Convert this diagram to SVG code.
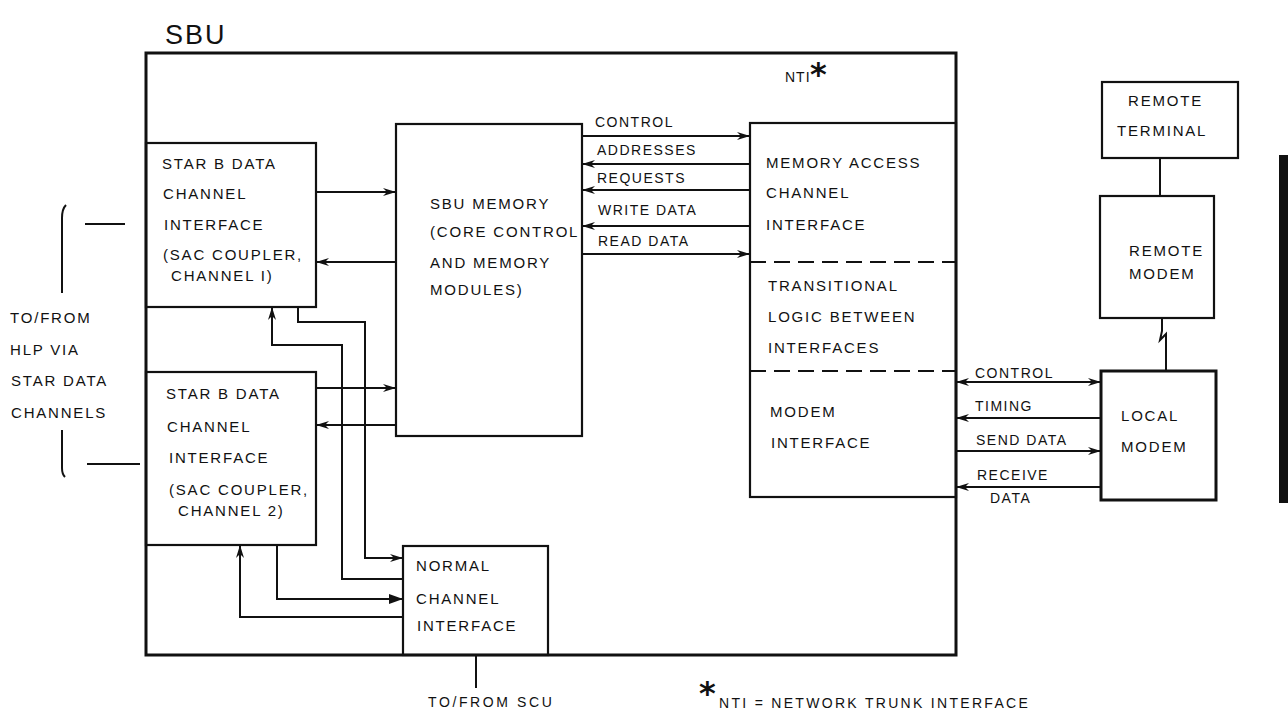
<svg xmlns="http://www.w3.org/2000/svg" width="1288" height="715" viewBox="0 0 1288 715">
<style>
text{font-family:"Liberation Sans",Arial,sans-serif;fill:#111;font-size:15px;letter-spacing:1.8px}
.lbl{font-size:14px;letter-spacing:1.5px}
.ast{font-family:"DejaVu Sans",sans-serif;font-weight:bold;font-size:32px;letter-spacing:0}
.box{fill:none;stroke:#111;stroke-width:2.2}
.thick{fill:none;stroke:#111;stroke-width:3}
.ln{fill:none;stroke:#111;stroke-width:2}
.dash{fill:none;stroke:#111;stroke-width:2;stroke-dasharray:16 8}
</style>
<defs>
<marker id="arr" markerUnits="userSpaceOnUse" markerWidth="14" markerHeight="10" refX="13" refY="4" orient="auto-start-reverse">
<path d="M0,0 L13,4 L0,8 L4,4 z" fill="#111"/>
</marker>
<marker id="arrf" markerUnits="userSpaceOnUse" markerWidth="16" markerHeight="12" refX="14" refY="5" orient="auto">
<path d="M0,0 L14,5 L0,10 z" fill="#111"/>
</marker>
</defs>
<rect width="1288" height="715" fill="#fff"/>

<text x="165" y="44" style="font-size:27px;letter-spacing:2px">SBU</text>

<g id="sbu">
<rect x="146" y="53" width="810" height="602" class="thick"/>
</g>

<g id="starb1">
<rect x="146" y="143" width="170" height="164" class="box"/>
<text x="162" y="169">STAR B DATA</text>
<text x="163" y="199">CHANNEL</text>
<text x="164" y="230">INTERFACE</text>
<text x="163" y="260">(SAC COUPLER,</text>
<text x="171" y="281">CHANNEL I)</text>
</g>

<g id="starb2">
<rect x="146" y="372" width="170" height="173" class="box"/>
<text x="166" y="399">STAR B DATA</text>
<text x="167" y="432">CHANNEL</text>
<text x="169" y="463">INTERFACE</text>
<text x="169" y="495">(SAC COUPLER,</text>
<text x="178" y="516">CHANNEL 2)</text>
</g>

<g id="memory">
<rect x="396" y="124" width="186" height="312" class="box"/>
<text x="430" y="209">SBU MEMORY</text>
<text x="430" y="237">(CORE CONTROL</text>
<text x="430" y="268">AND MEMORY</text>
<text x="430" y="295">MODULES)</text>
</g>

<g id="nti">
<text x="785" y="82" style="font-size:14px;letter-spacing:1px">NTI</text>
<text x="810" y="85" class="ast">*</text>
<rect x="750" y="123" width="206" height="374" class="box"/>
<line x1="750" y1="262" x2="956" y2="262" class="dash"/>
<line x1="750" y1="371" x2="956" y2="371" class="dash"/>
<text x="766" y="168">MEMORY ACCESS</text>
<text x="766" y="198">CHANNEL</text>
<text x="766" y="230">INTERFACE</text>
<text x="768" y="291">TRANSITIONAL</text>
<text x="768" y="322">LOGIC BETWEEN</text>
<text x="768" y="353">INTERFACES</text>
<text x="770" y="417">MODEM</text>
<text x="771" y="448">INTERFACE</text>
</g>

<g id="normal">
<rect x="403" y="546" width="145" height="109" class="box"/>
<text x="416" y="571">NORMAL</text>
<text x="416" y="604">CHANNEL</text>
<text x="417" y="631">INTERFACE</text>
</g>

<g id="remoteterminal">
<rect x="1102" y="82" width="136" height="76" class="box"/>
<text x="1128" y="106">REMOTE</text>
<text x="1117" y="136">TERMINAL</text>
</g>

<g id="remotemodem">
<rect x="1100" y="196" width="114" height="122" class="box"/>
<text x="1129" y="256">REMOTE</text>
<text x="1129" y="279">MODEM</text>
</g>

<g id="localmodem">
<rect x="1101" y="371" width="115" height="129" class="thick"/>
<text x="1121" y="421">LOCAL</text>
<text x="1121" y="452">MODEM</text>
</g>

<g id="connectors">
<line x1="316" y1="192" x2="396" y2="192" class="ln" marker-end="url(#arr)"/>
<line x1="396" y1="262" x2="316" y2="262" class="ln" marker-end="url(#arr)"/>
<line x1="316" y1="388" x2="396" y2="388" class="ln" marker-end="url(#arr)"/>
<line x1="396" y1="425" x2="316" y2="425" class="ln" marker-end="url(#arr)"/>

<line x1="582" y1="136" x2="750" y2="136" class="ln" marker-end="url(#arr)"/>
<line x1="750" y1="164" x2="582" y2="164" class="ln" marker-end="url(#arr)"/>
<line x1="750" y1="190" x2="582" y2="190" class="ln" marker-end="url(#arr)"/>
<line x1="750" y1="226" x2="582" y2="226" class="ln" marker-end="url(#arr)"/>
<line x1="582" y1="254" x2="750" y2="254" class="ln" marker-end="url(#arr)"/>

<line x1="956" y1="382" x2="1101" y2="382" class="ln" marker-start="url(#arr)" marker-end="url(#arr)"/>
<line x1="1101" y1="418" x2="956" y2="418" class="ln" marker-end="url(#arr)"/>
<line x1="956" y1="451" x2="1101" y2="451" class="ln" marker-end="url(#arr)"/>
<line x1="1101" y1="487" x2="956" y2="487" class="ln" marker-end="url(#arr)"/>

<polyline points="403,579 342,579 342,345 272,345 272,307" class="ln" marker-end="url(#arr)"/>
<polyline points="298,307 298,322 365,322 365,558 403,558" class="ln" marker-end="url(#arr)"/>
<polyline points="403,617 240,617 240,545" class="ln" marker-end="url(#arr)"/>
<polyline points="277,545 277,599 403,599" class="ln" marker-end="url(#arrf)"/>

<line x1="1160" y1="158" x2="1160" y2="196" class="ln"/>
<path d="M1162,318 V331 L1160,340 L1166,334 V371" class="ln"/>

<line x1="476" y1="655" x2="476" y2="688" class="ln"/>

<path d="M66,205 Q62,209 62,218 V293" class="ln"/>
<path d="M62,430 V468 Q62,474 65,477" class="ln"/>
<line x1="85" y1="224" x2="125" y2="224" class="ln"/>
<line x1="87" y1="464" x2="140" y2="464" class="ln"/>
</g>

<g id="labels">
<text x="595" y="127" class="lbl">CONTROL</text>
<text x="597" y="155" class="lbl">ADDRESSES</text>
<text x="597" y="183" class="lbl">REQUESTS</text>
<text x="598" y="215" class="lbl">WRITE DATA</text>
<text x="598" y="246" class="lbl">READ DATA</text>
<text x="975" y="378" class="lbl">CONTROL</text>
<text x="975" y="411" class="lbl">TIMING</text>
<text x="976" y="445" class="lbl">SEND DATA</text>
<text x="977" y="480" class="lbl">RECEIVE</text>
<text x="990" y="503" class="lbl">DATA</text>
<text x="10" y="323">TO/FROM</text>
<text x="10" y="355">HLP VIA</text>
<text x="11" y="386">STAR DATA</text>
<text x="11" y="418">CHANNELS</text>
<text x="428" y="707" class="lbl" style="letter-spacing:2.6px">TO/FROM SCU</text>
<text x="699" y="704" class="ast">*</text>
<text x="719" y="708" class="lbl" style="letter-spacing:2.3px">NTI = NETWORK TRUNK INTERFACE</text>
</g>

<rect x="1279" y="155" width="9" height="348" fill="#111"/>
</svg>
